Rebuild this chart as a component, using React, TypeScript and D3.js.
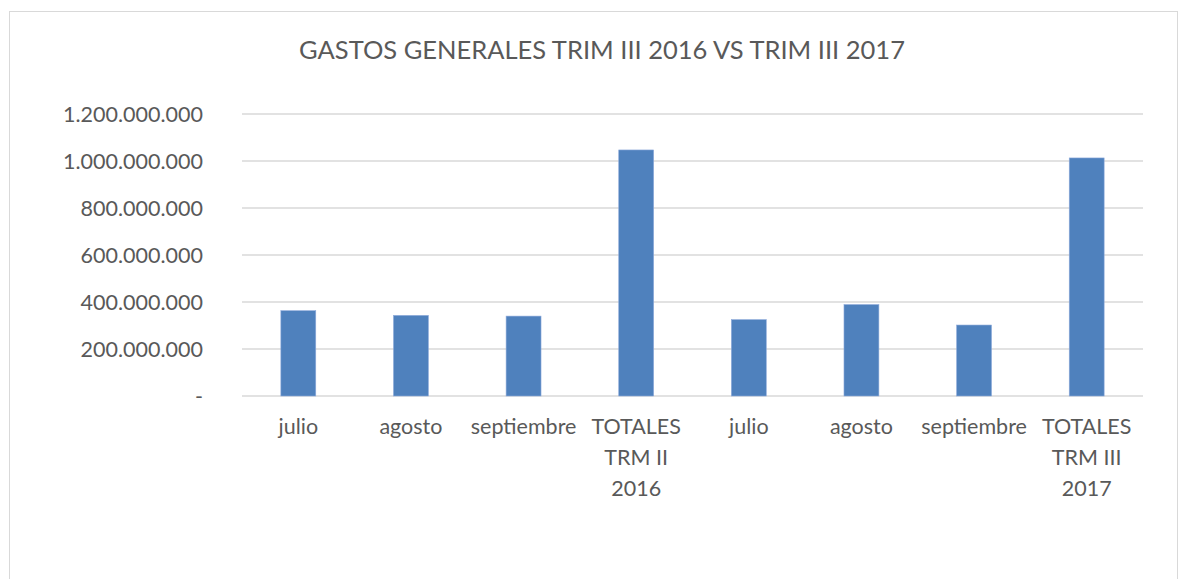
import React from "react";
import * as d3 from "d3";

const categories: string[][] = [
  ["julio"],
  ["agosto"],
  ["septiembre"],
  ["TOTALES", "TRM II", "2016"],
  ["julio"],
  ["agosto"],
  ["septiembre"],
  ["TOTALES", "TRM III", "2017"],
];
const values: number[] = [363e6, 343e6, 340e6, 1047e6, 325e6, 389e6, 302e6, 1013e6];
const yTicks: number[] = [0, 200e6, 400e6, 600e6, 800e6, 1000e6, 1200e6];
const title = "GASTOS GENERALES TRIM III 2016 VS TRIM III 2017";

const W = 1180;
const H = 579;
const FONT = "Lato, 'Open Sans', sans-serif";
const TEXT = "#595959";

const fmt = (v: number) =>
  v === 0 ? "-" : d3.format(",")(v).replace(/,/g, ".");

export default function App() {
  const left = 242;
  const right = 1143;
  const top = 114;
  const bottom = 396;
  const idx = categories.map((_, i) => String(i));
  const x = d3
    .scaleBand<string>()
    .domain(idx)
    .range([left, right])
    .paddingInner(0.69)
    .paddingOuter(0.345);
  const y = d3.scaleLinear().domain([0, 1200e6]).range([bottom, top]);

  return (
    <svg
      width={W}
      height={H}
      style={{ position: "absolute", left: 0, top: 0, display: "block", background: "#fff" }}
    >
      <rect x={9.5} y={11.5} width={1168} height={600} fill="#fff" stroke="#d9d9d9" strokeWidth={1} />
      <text
        x={602}
        y={59}
        textAnchor="middle"
        fontFamily={FONT}
        fontSize={25.5}
        fill={TEXT}
      >
        {title}
      </text>
      {yTicks.map((t) => (
        <g key={t}>
          <line x1={left} x2={right} y1={y(t)} y2={y(t)} stroke="#d9d9d9" strokeWidth={1.5} />
          <text
            x={203}
            y={y(t)}
            dy="0.35em"
            textAnchor="end"
            fontFamily={FONT}
            fontSize={21.5}
            fill={TEXT}
          >
            {fmt(t)}
          </text>
        </g>
      ))}
      {values.map((v, i) => (
        <rect
          key={i}
          x={x(String(i))!}
          y={y(v)}
          width={x.bandwidth()}
          height={y(0) - y(v)}
          fill="#4f81bd"
          stroke="#8eaadb"
          strokeWidth={0.6}
        />
      ))}
      {categories.map((lines, i) => (
        <text
          key={i}
          x={x(String(i))! + x.bandwidth() / 2}
          y={434}
          textAnchor="middle"
          fontFamily={FONT}
          fontSize={21.5}
          fill={TEXT}
        >
          {lines.map((l, j) => (
            <tspan key={j} x={x(String(i))! + x.bandwidth() / 2} dy={j === 0 ? 0 : 31}>
              {l}
            </tspan>
          ))}
        </text>
      ))}
    </svg>
  );
}
